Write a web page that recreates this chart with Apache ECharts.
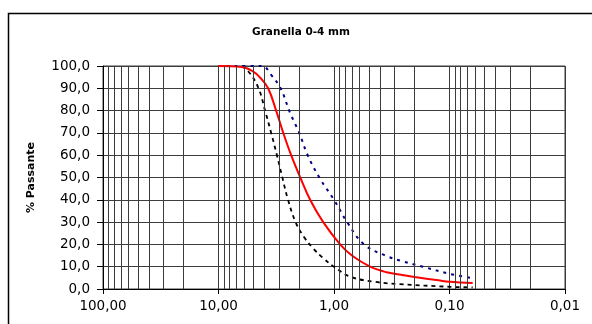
<!DOCTYPE html>
<html>
<head>
<meta charset="utf-8">
<script src="https://cdn.jsdelivr.net/npm/echarts@6/dist/echarts.min.js"></script>
<style>
html,body{margin:0;padding:0;background:#fff;}
#c{width:592px;height:324px;}
</style>
</head>
<body>
<div id="c"></div>
<script>
// Sieve sizes (mm) and passing (%)
const sampleSize = [10, 6.3, 5, 4.4, 3.72, 3.17, 2.75, 2.35, 1.96, 1.61, 1.24, 0.885, 0.7, 0.487, 0.35, 0.25, 0.2, 0.125, 0.1, 0.063];
const samplePass = [100, 99.5, 97.5, 95, 90, 80, 70, 60, 50, 40, 30, 20, 15, 10, 7.5, 6.2, 5.4, 3.9, 3.2, 2.7];

const lowerSize = [6.3, 5.4, 4.5, 3.95, 3.5, 3.12, 2.8, 2.5, 2.15, 1.8, 1.5, 1.25, 1.0, 0.72, 0.44, 0.27, 0.1, 0.063];
const lowerPass = [100, 97, 90, 80, 70, 60, 50, 40, 30, 23, 18, 14, 10, 5.5, 3.2, 2.2, 1.0, 0.7];

const upperSize = [10, 4.2, 3.5, 2.9, 2.4, 2, 1.69, 1.34, 1, 0.77, 0.55, 0.36, 0.25, 0.17, 0.1, 0.065];
const upperPass = [100, 100, 96, 90, 79, 70, 60, 50, 40, 30, 20, 15, 12.3, 10, 6.8, 5];

// Vertical grid lines at 2..9 of each decade
const gridValues = [];
[10, 1, 0.1, 0.01].forEach(function (d) {
  for (let k = 2; k <= 9; k++) gridValues.push(+(k * d).toPrecision(3));
});

function pairs(xs, ys) { return xs.map(function (x, i) { return [x, ys[i]]; }); }

const gridColor = '#3c3c3c';
const font = 'DejaVu Sans, sans-serif';

const chart = echarts.init(document.getElementById('c'), null, {renderer: 'canvas'});
chart.setOption({
  animation: false,
  backgroundColor: '#fff',
  title: {
    text: 'Granella 0-4 mm',
    left: 296, top: 22, textAlign: 'center',
    textStyle: {fontFamily: font, fontSize: 10.5, fontWeight: 'bold', color: '#000'}
  },
  graphic: [{
    type: 'rect', shape: {x: 8.5, y: 13.5, width: 600, height: 330},
    style: {fill: 'none', stroke: '#000', lineWidth: 1.5}, silent: true
  }],
  grid: {
    left: 103, right: 27, top: 66, bottom: 35,
    show: true, borderColor: gridColor, borderWidth: 1
  },
  xAxis: {
    type: 'log', logBase: 10, min: 0.01, max: 100, inverse: true,
    axisLine: {show: true, onZero: false, lineStyle: {color: '#000', width: 1}},
    axisTick: {show: true, inside: false, length: 5, lineStyle: {color: '#000'}},
    axisLabel: {
      fontFamily: font, fontSize: 13.5, color: '#000', margin: 10,
      formatter: function (v) { return v.toFixed(2).replace('.', ','); }
    },
    splitLine: {show: true, lineStyle: {color: gridColor, width: 1}},
    minorTick: {show: false}, minorSplitLine: {show: false}
  },
  yAxis: {
    type: 'value', min: 0, max: 100, interval: 10,
    name: '% Passante', nameLocation: 'middle', nameGap: 66, nameRotate: 90,
    nameTextStyle: {fontFamily: font, fontSize: 11, fontWeight: 'bold', color: '#000'},
    axisLine: {show: true, lineStyle: {color: '#000', width: 1}},
    axisTick: {show: true, inside: false, length: 6, lineStyle: {color: '#000'}},
    axisLabel: {
      fontFamily: font, fontSize: 13.5, color: '#000', margin: 13,
      formatter: function (v) { return v.toFixed(1).replace('.', ','); }
    },
    splitLine: {show: true, lineStyle: {color: gridColor, width: 1}}
  },
  series: [
    {
      type: 'line', data: [], z: 1, silent: true,
      markLine: {
        silent: true, symbol: 'none', animation: false,
        label: {show: false},
        lineStyle: {type: 'solid', color: gridColor, width: 1},
        data: gridValues.map(function (v) { return {xAxis: v}; })
      }
    },
    {
      name: 'lower', type: 'line', z: 3, smooth: 0.4, showSymbol: false,
      data: pairs(lowerSize, lowerPass),
      lineStyle: {color: '#000', width: 1.8, type: [4, 4]}
    },
    {
      name: 'upper', type: 'line', z: 3, smooth: 0.4, showSymbol: false,
      data: pairs(upperSize, upperPass),
      lineStyle: {color: '#000080', width: 2, type: [3, 5]}
    },
    {
      name: 'sample', type: 'line', z: 4, smooth: 0.4, showSymbol: false,
      data: pairs(sampleSize, samplePass),
      lineStyle: {color: '#ff0000', width: 2, type: 'solid'}
    }
  ]
});
</script>
</body>
</html>
